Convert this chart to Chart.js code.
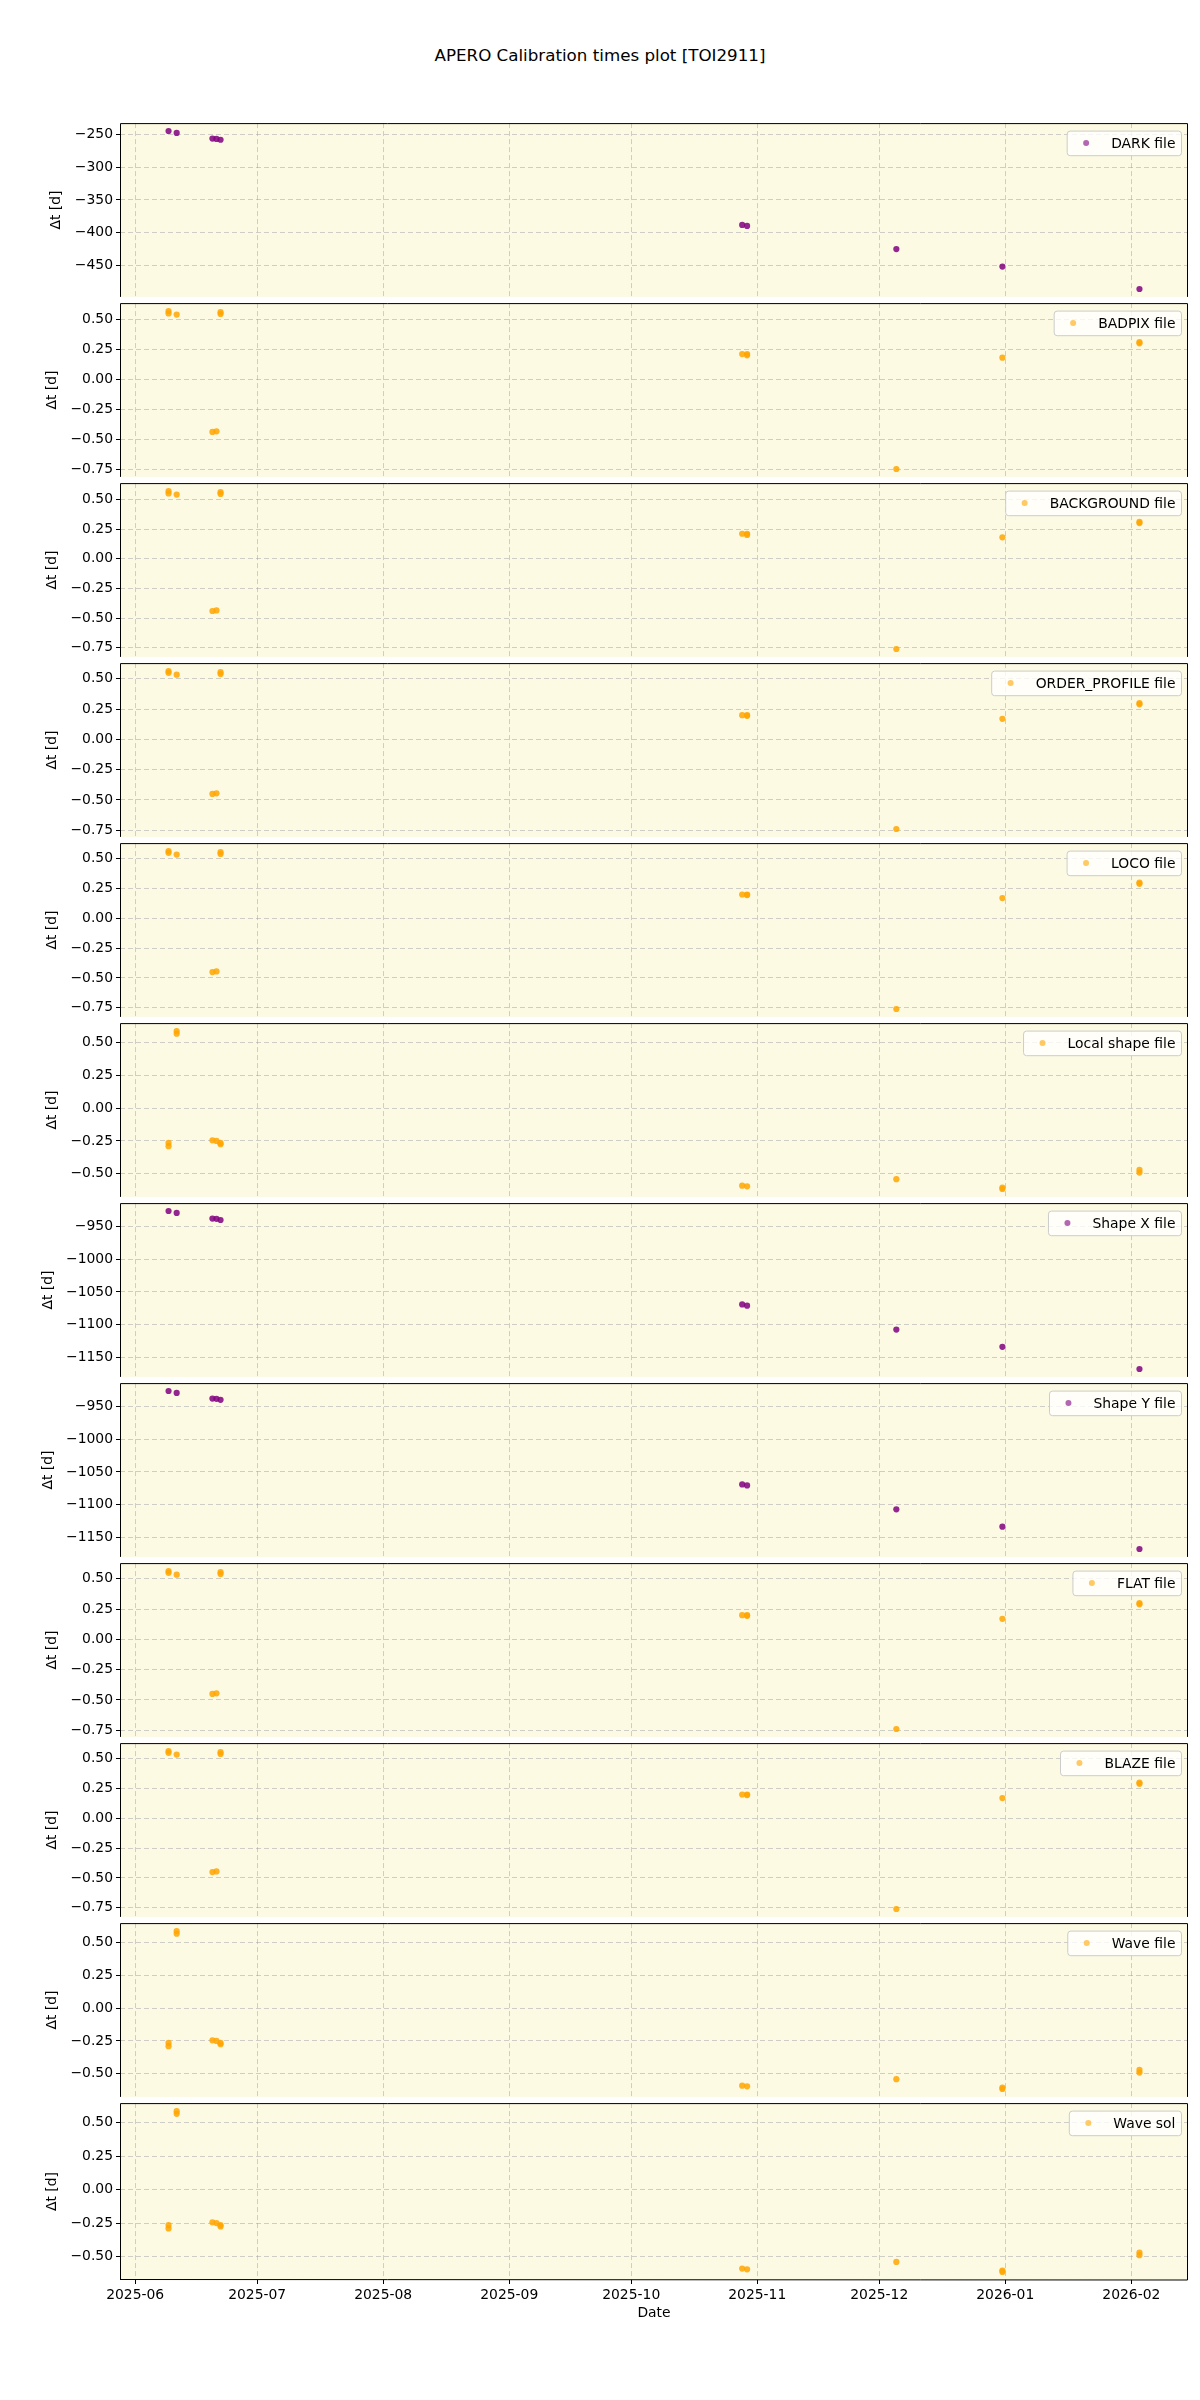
<!DOCTYPE html>
<html>
<head>
<meta charset="utf-8">
<script src="https://cdn.jsdelivr.net/npm/chart.js@4.4.1/dist/chart.umd.min.js"></script>
<style>
  body { margin: 0; background: #fff; }
  #fig { position: relative; width: 1200px; height: 2400px; font-family: 'DejaVu Sans', sans-serif; }
  #title { position: absolute; left: 0; top: 44px; width: 1200px; text-align: center;
           font-size: 16.7px; line-height: 22px; color: #000; }
  canvas { position: absolute; left: 0; }
</style>
</head>
<body>
<div id="fig"><div id="title">APERO Calibration times plot [TOI2911]</div></div>
<script>
// shared date axis tick labels (month starts)
const monthTicks = ['2025-06', '2025-07', '2025-08', '2025-09', '2025-10',
                    '2025-11', '2025-12', '2026-01', '2026-02'];

const panelLabels = ['DARK file', 'BADPIX file', 'BACKGROUND file', 'ORDER_PROFILE file',
  'LOCO file', 'Local shape file', 'Shape X file', 'Shape Y file',
  'FLAT file', 'BLAZE file', 'Wave file', 'Wave sol'];

// observation dates of each group of panels
const darkDates = ['2025-06-09 05:00', '2025-06-11 05:00', '2025-06-20 00:00', '2025-06-21 00:00',
  '2025-06-22 00:00', '2025-10-28 07:00', '2025-10-29 12:00', '2025-12-05 05:00',
  '2025-12-31 07:00', '2026-02-03 00:00'];
const calibDates = ['2025-06-09 05:00', '2025-06-09 05:00', '2025-06-11 05:00', '2025-06-20 00:00',
  '2025-06-21 00:00', '2025-06-22 00:00', '2025-06-22 00:00', '2025-10-28 07:00',
  '2025-10-29 12:00', '2025-10-29 12:00', '2025-12-05 05:00', '2025-12-31 07:00',
  '2026-02-03 00:00', '2026-02-03 00:00'];
const shapeDates = ['2025-06-09 05:00', '2025-06-09 05:00', '2025-06-11 05:00', '2025-06-11 05:00',
  '2025-06-20 00:00', '2025-06-21 00:00', '2025-06-22 00:00', '2025-06-22 00:00',
  '2025-10-28 07:00', '2025-10-29 12:00', '2025-12-05 05:00', '2025-12-31 07:00',
  '2025-12-31 07:00', '2026-02-03 00:00', '2026-02-03 00:00'];

// delta t [d] per panel
const darkDt = [-245, -248, -256.5, -257, -258.3, -388, -389.5, -424.8, -451.5, -485.6];
const badpixDt = [0.57, 0.55, 0.54, -0.44, -0.435, 0.56, 0.545, 0.21, 0.21, 0.20, -0.75, 0.18, 0.31, 0.30];
const backgroundDt = [0.57, 0.55, 0.54, -0.44, -0.435, 0.56, 0.545, 0.21, 0.21, 0.20, -0.76, 0.18, 0.31, 0.30];
const orderProfileDt = [0.565, 0.55, 0.535, -0.45, -0.445, 0.555, 0.54, 0.20, 0.20, 0.195, -0.74, 0.17, 0.30, 0.29];
const locoDt = [0.565, 0.55, 0.535, -0.45, -0.445, 0.555, 0.54, 0.20, 0.20, 0.195, -0.76, 0.17, 0.30, 0.29];
const localShapeDt = [-0.265, -0.29, 0.585, 0.565, -0.245, -0.25, -0.265, -0.275, -0.59, -0.595, -0.54, -0.605, -0.615, -0.47, -0.49];
const shapeXDt = [-926.5, -929.4, -938, -938.5, -940.2, -1069, -1071, -1107.4, -1133.8, -1167.6];
const shapeYDt = [-926.5, -929.5, -938, -938.5, -940, -1069, -1070.5, -1107, -1133.5, -1167.5];
const flatDt = [0.565, 0.55, 0.535, -0.45, -0.445, 0.555, 0.54, 0.20, 0.20, 0.195, -0.74, 0.17, 0.30, 0.29];
const blazeDt = [0.565, 0.55, 0.535, -0.45, -0.445, 0.555, 0.54, 0.20, 0.20, 0.195, -0.76, 0.17, 0.30, 0.29];
const waveDt = [-0.265, -0.29, 0.585, 0.565, -0.245, -0.25, -0.265, -0.275, -0.59, -0.595, -0.54, -0.605, -0.615, -0.47, -0.49];
const waveSolDt = [-0.265, -0.29, 0.585, 0.565, -0.245, -0.25, -0.265, -0.275, -0.59, -0.595, -0.54, -0.605, -0.615, -0.47, -0.49];

// y tick spacing per panel
const yStep = [50, 0.25, 0.25, 0.25, 0.25, 0.25, 50, 50, 0.25, 0.25, 0.25, 0.25];

const PURPLE = 'rgba(128,0,128,0.85)';
const ORANGE = 'rgba(255,165,0,0.85)';

const panels = [
  { dates: darkDates, values: darkDt, color: PURPLE },
  { dates: calibDates, values: badpixDt, color: ORANGE },
  { dates: calibDates, values: backgroundDt, color: ORANGE },
  { dates: calibDates, values: orderProfileDt, color: ORANGE },
  { dates: calibDates, values: locoDt, color: ORANGE },
  { dates: shapeDates, values: localShapeDt, color: ORANGE },
  { dates: darkDates, values: shapeXDt, color: PURPLE },
  { dates: darkDates, values: shapeYDt, color: PURPLE },
  { dates: calibDates, values: flatDt, color: ORANGE },
  { dates: calibDates, values: blazeDt, color: ORANGE },
  { dates: shapeDates, values: waveDt, color: ORANGE },
  { dates: shapeDates, values: waveSolDt, color: ORANGE },
];

const FS = 13.9;
const font = { family: 'DejaVu Sans', size: FS, lineHeight: 1.2 };
const gridColor = 'rgba(150,150,165,0.45)';

function toDay(s) {
  const p = s.split(/[- :]/).map(Number);
  return Date.UTC(p[0], p[1] - 1, p[2] || 1, p[3] || 0, p[4] || 0) / 864e5;
}

function padRange(vals) {
  const lo = Math.min(...vals), hi = Math.max(...vals);
  const m = (hi - lo) * 0.05;
  return { min: lo - m, max: hi + m };
}

function fmt(v, step) {
  if (Math.abs(v) < 1e-9) v = 0;
  const s = step < 1 ? v.toFixed(2) : v.toFixed(0);
  return s.replace('-', '\u2212');
}

// tick values that are whole multiples of step inside the range
function stepTicks(r, step) {
  const out = [];
  for (let k = Math.ceil(r.min / step); k <= Math.floor(r.max / step); k++) {
    out.push(Math.round(k * step * 1000) / 1000);
  }
  return out;
}

const allDays = panels.flatMap(p => p.dates.map(toDay));
const xr = padRange(allDays);

const measureCtx = document.createElement('canvas').getContext('2d');
measureCtx.font = FS + 'px "DejaVu Sans"';

const bgPlugin = {
  id: 'bg',
  beforeDraw(chart) {
    const a = chart.chartArea, ctx = chart.ctx;
    ctx.save();
    ctx.fillStyle = '#fcfae2';
    ctx.fillRect(a.left, a.top, a.right - a.left, a.bottom - a.top);
    ctx.restore();
  }
};

const framePlugin = {
  id: 'frame',
  afterDatasetsDraw(chart, args, opts) {
    const a = chart.chartArea, ctx = chart.ctx;
    ctx.save();
    ctx.strokeStyle = '#000';
    ctx.lineWidth = 1;
    ctx.beginPath();
    ctx.moveTo(a.left + 0.5, a.bottom);
    ctx.lineTo(a.left + 0.5, a.top + 0.5);
    ctx.lineTo(a.right - 0.5, a.top + 0.5);
    ctx.lineTo(a.right - 0.5, a.bottom);
    if (opts.last) {
      ctx.lineTo(a.left + 0.5, a.bottom - 0.5);
    }
    ctx.stroke();
    ctx.restore();
  }
};

const legendPlugin = {
  id: 'panelLegend',
  afterDraw(chart, args, opts) {
    const a = chart.chartArea, ctx = chart.ctx;
    const label = chart.data.datasets[0].label;
    ctx.save();
    ctx.font = FS + 'px "DejaVu Sans"';
    const tw = ctx.measureText(label).width;
    const w = FS * 0.4 + FS * 2 + FS * 0.8 + tw + FS * 0.4;
    const h = 24.6;
    const x0 = a.right - 7 - w, y0 = a.top + 7.5;
    ctx.beginPath();
    ctx.roundRect(x0 + 0.5, y0 + 0.5, w, h, 3);
    ctx.fillStyle = 'rgba(255,255,255,0.8)';
    ctx.fill();
    ctx.strokeStyle = '#cccccc';
    ctx.lineWidth = 1;
    ctx.stroke();
    ctx.globalAlpha = 0.6;
    ctx.fillStyle = opts.color;
    ctx.beginPath();
    ctx.arc(x0 + FS * 1.4, y0 + h / 2, 3, 0, Math.PI * 2);
    ctx.fill();
    ctx.globalAlpha = 1;
    ctx.fillStyle = '#000';
    ctx.textBaseline = 'middle';
    ctx.fillText(label, x0 + FS * 3.2, y0 + h / 2 + 1);
    ctx.restore();
  }
};

const fig = document.getElementById('fig');

panels.forEach((p, i) => {
  const last = i === panels.length - 1;
  const cv = document.createElement('canvas');
  cv.width = 1200;
  cv.height = last ? 240 : 180;
  cv.style.top = (120 + i * 180) + 'px';
  fig.appendChild(cv);

  const yr = padRange(p.values);
  const step = yStep[i];
  const yTicks = stepTicks(yr, step);
  // widest tick label, used to place the y title like matplotlib does
  const widest = Math.max(...yTicks.map(v => measureCtx.measureText(fmt(v, step)).width));
  const titlePad = 95 - widest - FS * 0.6;

  new Chart(cv.getContext('2d'), {
    type: 'scatter',
    data: {
      datasets: [{
        label: panelLabels[i],
        data: p.dates.map((d, k) => ({ x: toDay(d), y: p.values[k] })),
        backgroundColor: p.color,
        borderWidth: 0,
        pointRadius: 3.1,
        pointHoverRadius: 3.1
      }]
    },
    options: {
      responsive: false,
      animation: false,
      events: [],
      layout: { padding: { left: 0, right: 12, top: 0, bottom: 0 } },
      plugins: {
        legend: { display: false },
        tooltip: { enabled: false },
        frame: { last: last },
        panelLegend: { color: p.color.replace('0.85', '1') }
      },
      scales: {
        x: {
          type: 'linear',
          min: xr.min,
          max: xr.max,
          bounds: 'data',
          afterBuildTicks: s => { s.ticks = monthTicks.map(m => ({ value: toDay(m + '-01') })); },
          ticks: {
            display: last, autoSkip: false, maxRotation: 0, color: '#000', font: font, padding: 3,
            callback: (v, k) => monthTicks[k]
          },
          grid: { color: gridColor, lineWidth: 1, drawTicks: last, tickLength: 4, tickColor: '#000', tickWidth: 1 },
          border: { display: false, dash: [5, 3] },
          title: { display: last, text: 'Date', color: '#000', font: font, padding: { top: 0, bottom: 18 } },
          afterFit: s => { s.height = last ? 60 : 0; s.paddingLeft = 0; s.paddingRight = 0; }
        },
        y: {
          type: 'linear',
          min: yr.min,
          max: yr.max,
          bounds: 'data',
          afterBuildTicks: s => { s.ticks = yTicks.map(v => ({ value: v })); },
          ticks: {
            autoSkip: false, color: '#000', font: font, padding: 3,
            callback: v => fmt(v, step)
          },
          grid: { color: gridColor, lineWidth: 1, tickLength: 4, tickColor: '#000', tickWidth: 1 },
          border: { display: false, dash: [5, 3] },
          title: { display: true, text: '\u0394t [d]', color: '#000', font: font, padding: { top: titlePad, bottom: 0 } },
          afterFit: s => { s.width = 120; s.paddingTop = 0; s.paddingBottom = 0; }
        }
      }
    },
    plugins: [bgPlugin, framePlugin, legendPlugin]
  });
});
</script>
</body>
</html>
